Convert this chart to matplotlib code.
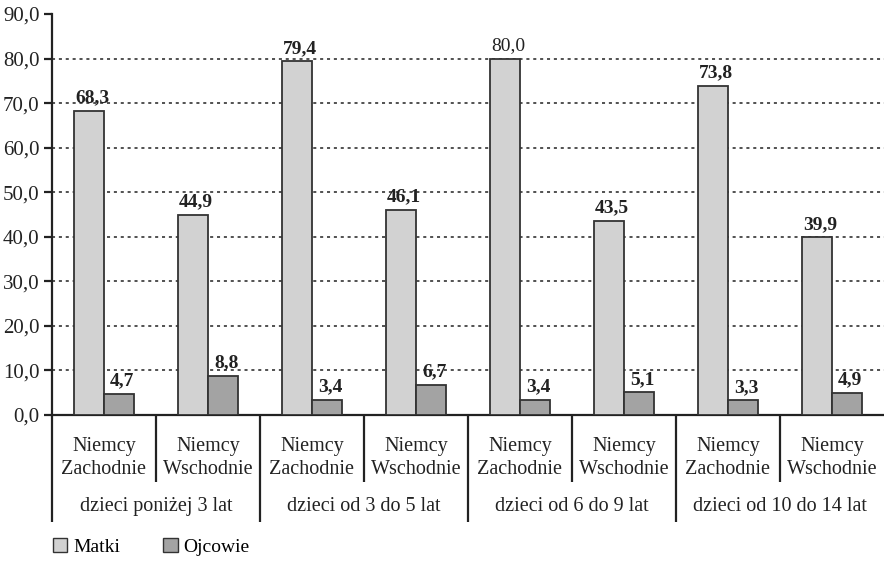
import numpy as np
import matplotlib.pyplot as plt
from matplotlib.patches import Patch
from matplotlib.transforms import blended_transform_factory

plt.rcParams['font.family'] = ['Liberation Serif', 'DejaVu Serif']

regions = ["Niemcy\nZachodnie", "Niemcy\nWschodnie"] * 4
age_groups = ["dzieci poniżej 3 lat", "dzieci od 3 do 5 lat",
              "dzieci od 6 do 9 lat", "dzieci od 10 do 14 lat"]
matki = [68.3, 44.9, 79.4, 46.1, 80.0, 43.5, 73.8, 39.9]
ojcowie = [4.7, 8.8, 3.4, 6.7, 3.4, 5.1, 3.3, 4.9]
yticks = np.arange(0, 100, 10)

fig = plt.figure(figsize=(8.84, 5.65), dpi=100)
ax = fig.add_axes([52 / 884, 1 - 415 / 565, 832 / 884, 401 / 565])

x = np.arange(len(matki)) + 0.5
w = 0.29
edge = '#333333'
ax.bar(x - w / 2, matki, w, color='#d2d2d2', edgecolor=edge, linewidth=1.3, zorder=3)
ax.bar(x + w / 2, ojcowie, w, color='#a3a3a3', edgecolor=edge, linewidth=1.3, zorder=3)

fmt = lambda v: f"{v:.1f}".replace('.', ',')
for xi, v in zip(x, matki):
    # the 80,0 label is set in regular weight
    weight = 'normal' if v == 80.0 else 'bold'
    ax.text(xi - w / 2 + 0.03, v + 1.0, fmt(v), ha='center', va='bottom',
            fontsize=14, fontweight=weight, color='#222222', zorder=4)
for xi, v in zip(x, ojcowie):
    ax.text(xi + w / 2 + 0.03, v + 1.0, fmt(v), ha='center', va='bottom',
            fontsize=14, fontweight='bold', color='#222222', zorder=4)

ax.set_xlim(0, 8)
ax.set_ylim(0, 90)
ax.set_yticks(yticks)
ax.set_yticklabels([fmt(t) for t in yticks], fontsize=15, color='#222222')
ax.set_xticks([])
for t in yticks[1:-1]:
    ax.axhline(t, color='#222222', linestyle=(0, (2, 2.5)), linewidth=1.1, zorder=1)

ax.spines['top'].set_visible(False)
ax.spines['right'].set_visible(False)
for s in ('left', 'bottom'):
    ax.spines[s].set_color('#222222')
    ax.spines[s].set_linewidth(1.6)
ax.tick_params(axis='y', direction='out', length=6, width=1.6, color='#222222', pad=3)

# category table below the axis
trans = blended_transform_factory(ax.transData, ax.transAxes)
for i in range(1, 8):
    low = -0.267 if i % 2 == 0 else -0.167
    ax.plot([i, i], [0, low], transform=trans, color='#222222', lw=1.6,
            clip_on=False, solid_capstyle='butt')
ax.plot([0, 0], [0, -0.267], transform=trans, color='#222222', lw=1.6,
        clip_on=False, solid_capstyle='butt')
for xi, lab in zip(x, regions):
    ax.text(xi, -0.107, lab, transform=trans, ha='center', va='center',
            fontsize=14.5, color='#222222', linespacing=1.3)
for g, lab in enumerate(age_groups):
    ax.text(2 * g + 1, -0.229, lab, transform=trans, ha='center', va='center',
            fontsize=14.5, color='#222222')

handles = [Patch(facecolor='#d2d2d2', edgecolor=edge, linewidth=1.0, label='Matki'),
           Patch(facecolor='#a3a3a3', edgecolor=edge, linewidth=1.0, label='Ojcowie')]
fig.legend(handles=handles, loc='lower left', bbox_to_anchor=(0.04, -0.015), ncol=2,
           frameon=False, fontsize=14, handlelength=0.75, handleheight=0.75,
           handletextpad=0.3, columnspacing=2.2)

fig.savefig('out.png', dpi=100)
